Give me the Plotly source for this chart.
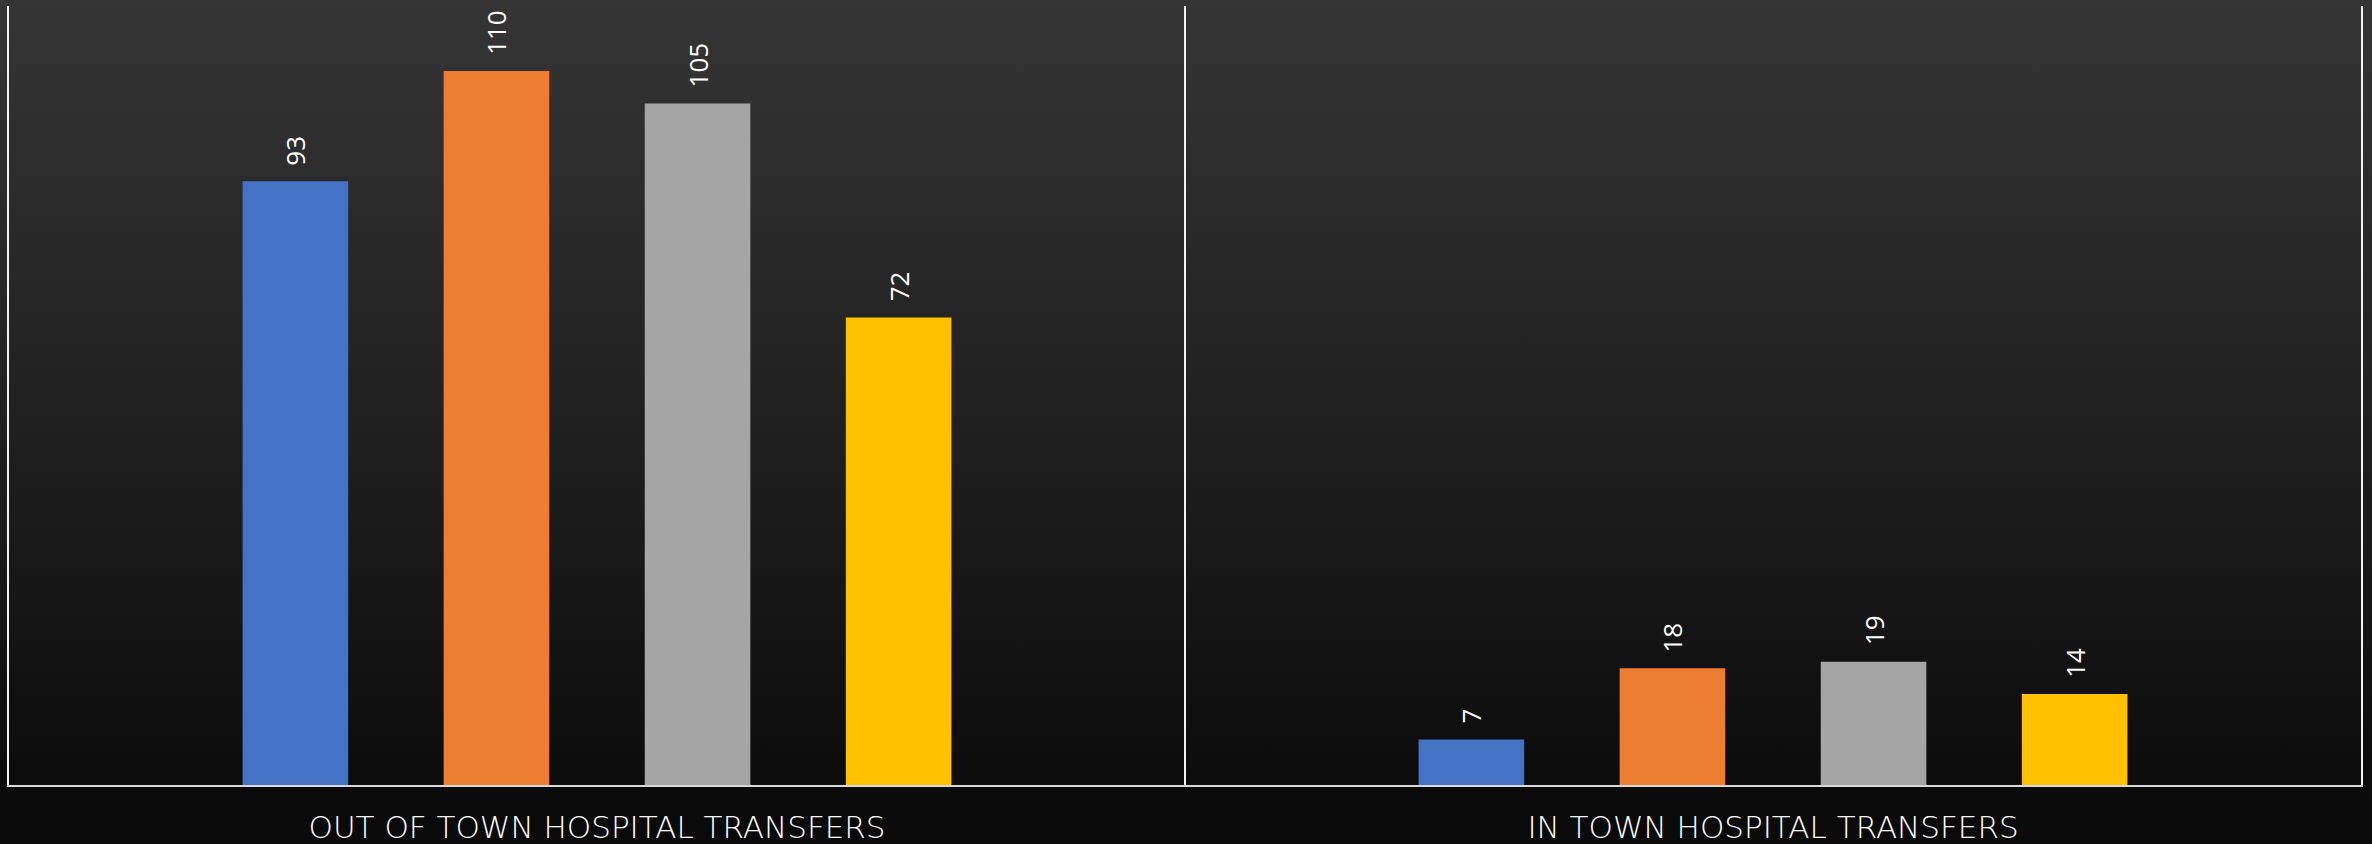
import base64
import plotly.graph_objects as go

# Transfer counts per category, one list per series
categories = ["OUT OF TOWN HOSPITAL TRANSFERS", "IN TOWN HOSPITAL TRANSFERS"]
series_names = ["Series 1", "Series 2", "Series 3", "Series 4"]
series_1 = [93, 7]
series_2 = [110, 18]
series_3 = [105, 19]
series_4 = [72, 14]
series_values = [series_1, series_2, series_3, series_4]
series_colors = ["#4472C4", "#ED7D31", "#A5A5A5", "#FFC000"]

W, H = 2372, 844
margin = dict(l=9, r=11, t=6, b=59)
bargap = 0.316
bargroupgap = 0.475

label_font = "Open Sans, Segoe UI, sans-serif"
category_font = "DejaVu Sans, Open Sans, sans-serif"

fig = go.Figure()
for name, vals, color in zip(series_names, series_values, series_colors):
    fig.add_trace(go.Bar(
        name=name, x=categories, y=vals,
        marker=dict(color=color, line=dict(width=0)),
        hoverinfo="x+y",
    ))

# Rotated value labels above each bar, offset to the bar's slot in its group
plot_w = W - margin["l"] - margin["r"]
slot_px = plot_w * (1 - bargap) / len(categories) / len(series_values)
n = len(series_values)
for i, vals in enumerate(series_values):
    for cat, v in zip(categories, vals):
        fig.add_annotation(
            x=cat, y=v, xref="x", yref="y",
            text=str(v), showarrow=False, textangle=-90,
            xanchor="center", yanchor="bottom",
            xshift=(i - (n - 1) / 2) * slot_px, yshift=14,
            font=dict(family=label_font, size=26, color="#ffffff"),
        )

# Dark vertical gradient behind the whole figure
svg = (
    '<svg xmlns="http://www.w3.org/2000/svg" width="10" height="100" preserveAspectRatio="none">'
    '<defs><linearGradient id="g" x1="0" y1="0" x2="0" y2="1">'
    '<stop offset="0" stop-color="#353535"/>'
    '<stop offset="0.55" stop-color="#1e1e1e"/>'
    '<stop offset="0.92" stop-color="#0c0c0c"/>'
    '<stop offset="1" stop-color="#0a0a0a"/>'
    '</linearGradient></defs><rect width="10" height="100" fill="url(#g)"/></svg>'
)
bg_src = "data:image/svg+xml;base64," + base64.b64encode(svg.encode()).decode()
plot_h = H - margin["t"] - margin["b"]

fig.update_layout(
    width=W, height=H, margin=margin,
    paper_bgcolor="#0a0a0a", plot_bgcolor="rgba(0,0,0,0)",
    barmode="group", bargap=bargap, bargroupgap=bargroupgap,
    showlegend=False,
    images=[dict(
        source=bg_src, xref="paper", yref="paper",
        x=-margin["l"] / plot_w, y=1 + margin["t"] / plot_h,
        sizex=W / plot_w, sizey=H / plot_h,
        xanchor="left", yanchor="top", sizing="stretch", layer="below",
    )],
    xaxis=dict(
        type="category", tickson="boundaries", ticks="",
        showgrid=True, gridcolor="#f2f2f2", gridwidth=2,
        showline=True, linecolor="#d9d9d9", linewidth=2,
        tickfont=dict(family=category_font, size=31, color="#ffffff", weight=200),
        ticklabelstandoff=14, automargin=False,
    ),
    yaxis=dict(
        range=[0, 120], showgrid=False, zeroline=False,
        showticklabels=False, ticks="",
        showline=True, mirror=True, linecolor="#f2f2f2", linewidth=2,
    ),
)

fig.write_html("out.html")
